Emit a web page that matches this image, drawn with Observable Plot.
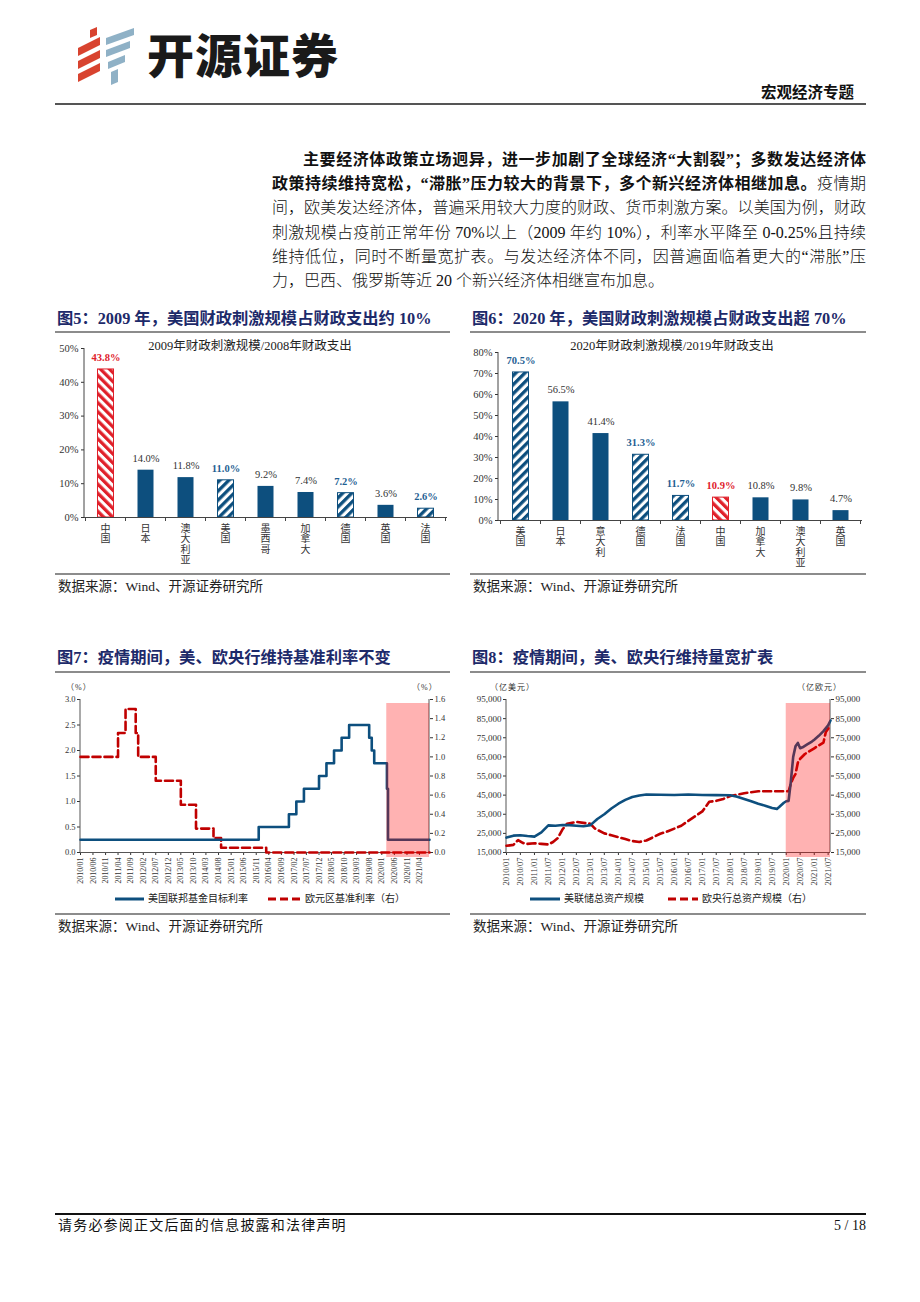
<!DOCTYPE html>
<html lang="zh-CN">
<head>
<meta charset="utf-8">
<script src="https://cdn.jsdelivr.net/npm/d3@7"></script>
<script src="https://cdn.jsdelivr.net/npm/@observablehq/plot@0.6"></script>
<style>
  html,body{margin:0;padding:0;background:#fff;}
  body{width:920px;height:1302px;position:relative;overflow:hidden;font-family:"Liberation Serif","Noto Sans CJK SC",serif;color:#111;}
  .abs{position:absolute;}
  .hr{position:absolute;background:#8c8c8c;height:2px;}
  .figtitle{position:absolute;font-weight:bold;color:#1d2a6a;font-size:16.3px;white-space:nowrap;line-height:1;}
  .src{position:absolute;font-size:13.5px;color:#222;white-space:nowrap;line-height:1;}
  .para{position:absolute;font-size:16px;line-height:24.2px;font-weight:300;color:#111;}
  .para .ln{text-align:justify;text-align-last:justify;white-space:nowrap;}
  .para .last{text-align-last:left;}
  .para b{font-weight:700;}
  .ctitle{position:absolute;font-size:12.5px;color:#222;white-space:nowrap;line-height:1;transform:translateX(-50%);}
  .unit{position:absolute;font-size:8px;color:#333;white-space:nowrap;line-height:1;letter-spacing:1px;}
  .legend{position:absolute;font-size:10px;color:#222;white-space:nowrap;line-height:1;display:flex;align-items:center;}
  .legend svg{margin-right:4px;}
</style>
</head>
<body>
<script>
// ---------------- DATA ----------------
// Figure 5
const c5Categories = ["中国","日本","澳大利亚","美国","墨西哥","加拿大","德国","英国","法国"];
const c5Values = [43.8, 14.0, 11.8, 11.0, 9.2, 7.4, 7.2, 3.6, 2.6];
const c5Styles = ["hatchRed","solid","solid","hatchBlue","solid","solid","hatchBlue","solid","hatchBlue"];
const c5Ticks = [0, 10, 20, 30, 40, 50];
// Figure 6
const c6Categories = ["美国","日本","意大利","德国","法国","中国","加拿大","澳大利亚","英国"];
const c6Values = [70.5, 56.5, 41.4, 31.3, 11.7, 10.9, 10.8, 9.8, 4.7];
const c6Styles = ["hatchBlue","solid","solid","hatchBlue","hatchBlue","hatchRed","solid","solid","solid"];
const c6Ticks = [0, 10, 20, 30, 40, 50, 60, 70, 80];
// Figure 7 (policy rates, %)
const fedRateDates = ["2010/01","2015/12","2016/12","2017/03","2017/06","2017/12","2018/03","2018/06","2018/09","2018/12","2019/08","2019/09","2019/10","2020/03/03","2020/03/16","2021/08"];
const fedRateValues = [0.25,0.5,0.75,1.0,1.25,1.5,1.75,2.0,2.25,2.5,2.25,2.0,1.75,1.25,0.25,0.25];
const ecbRateDates = ["2010/01","2011/04","2011/07","2011/11","2011/12","2012/07","2013/05","2013/11","2014/06","2014/09","2016/03","2021/08"];
const ecbRateValues = [1.0,1.25,1.5,1.25,1.0,0.75,0.5,0.25,0.15,0.05,0.0,0.0];
const rateLeftTicks = [0,0.5,1.0,1.5,2.0,2.5,3.0];
const rateRightTicks = [0,0.2,0.4,0.6,0.8,1.0,1.2,1.4,1.6];
const rateXTicks = ["2010/01","2010/06","2010/11","2011/04","2011/09","2012/02","2012/07","2012/12","2013/05","2013/10","2014/03","2014/08","2015/01","2015/06","2015/11","2016/04","2016/09","2017/02","2017/07","2017/12","2018/05","2018/10","2019/03","2019/08","2020/01","2020/06","2020/11","2021/04"];
const rateXDomain = ["2010/01","2021/08"];
const rateShade = [{start:"2020/03", end:"2021/08"}];
// Figure 8 (balance sheets)
const fedAssetDates = ["2010/01","2010/04","2010/07","2010/10","2011/01","2011/04","2011/07","2011/10","2012/01","2012/04","2012/07","2012/10","2013/01","2013/04","2013/07","2013/10","2014/01","2014/04","2014/07","2014/10","2015/01","2015/07","2016/01","2016/07","2017/01","2017/07","2018/01","2018/04","2018/07","2018/10","2019/01","2019/04","2019/07","2019/09","2019/10","2019/12","2020/01","2020/02","2020/03","2020/04","2020/05","2020/06","2020/07","2020/08","2020/10","2020/12","2021/01","2021/03","2021/05","2021/07","2021/08"];
const fedAssetValues = [22800,23800,24000,23600,23300,25500,29200,29000,29400,29300,29000,28700,29300,32500,35000,38000,40500,42500,44000,44800,45300,45200,45100,45300,45100,45000,44900,44200,43000,41800,40500,39500,38300,37800,38800,41000,41800,42000,52000,65000,70500,72300,69500,70000,71500,73000,74000,76000,78500,81500,84000];
const ecbAssetDates = ["2010/01","2010/04","2010/06","2010/08","2010/10","2011/01","2011/04","2011/07","2011/09","2011/11","2012/01","2012/03","2012/07","2012/10","2013/01","2013/03","2013/07","2013/10","2014/01","2014/04","2014/07","2014/10","2015/01","2015/04","2015/07","2015/10","2016/01","2016/04","2016/07","2016/10","2017/01","2017/04","2017/07","2017/10","2018/01","2018/07","2019/01","2019/07","2020/01","2020/02","2020/03","2020/04","2020/05","2020/06","2020/07","2020/09","2020/11","2021/01","2021/03","2021/05","2021/06","2021/08"];
const ecbAssetValues = [18500,19000,21500,20000,19500,19800,19500,19200,20500,22500,27000,30000,31000,30500,30000,27500,25000,24000,23000,22000,21000,20500,21300,23000,24800,26000,27500,29000,31500,34000,36500,41500,42000,43000,44500,46000,47000,47000,47000,47000,51000,54000,56000,62000,64000,66500,68000,69500,71000,72500,78000,81500];
const assetTicks = [15000,25000,35000,45000,55000,65000,75000,85000,95000];
const assetXTicks = ["2010/01","2010/07","2011/01","2011/07","2012/01","2012/07","2013/01","2013/07","2014/01","2014/07","2015/01","2015/07","2016/01","2016/07","2017/01","2017/07","2018/01","2018/07","2019/01","2019/07","2020/01","2020/07","2021/01","2021/07"];
const assetXDomain = ["2010/01","2021/08"];
const assetShade = [{start:"2020/01", end:"2021/08"}];

// ---------------- HELPERS ----------------
const NS = "http://www.w3.org/2000/svg";
const BLUE = "#0d4f7e", RED = "#e0202a", DRED = "#c00000";
const FONT = '"Liberation Serif","Noto Sans CJK SC",serif';
const CJK = '"Noto Sans CJK SC",sans-serif';
const parse = s => { const p = s.split("/").map(Number); return new Date(p[0], p[1]-1, p[2] || 1); };
function el(tag, attrs) { const e = document.createElementNS(NS, tag); for (const k in attrs) e.setAttribute(k, attrs[k]); return e; }
function hatchDefs(specs) {
  return () => {
    const defs = el("defs", {});
    for (const [id, color, angle] of specs) {
      const p = el("pattern", {id, patternUnits:"userSpaceOnUse", width:6.4, height:6.4, patternTransform:`rotate(${angle})`});
      p.appendChild(el("rect", {x:0, y:0, width:6.4, height:6.4, fill:"#fff"}));
      p.appendChild(el("rect", {x:0, y:0, width:3.3, height:6.4, fill:color}));
      defs.appendChild(p);
    }
    return defs;
  };
}
function frameLines(sides, color) {
  return (index, scales, values, d) => {
    const g = el("g", {stroke: color, "stroke-width": 1});
    const L = d.marginLeft, R = d.width - d.marginRight, T = d.marginTop, B = d.height - d.marginBottom;
    if (sides.includes("left")) g.appendChild(el("line", {x1:L, x2:L, y1:T, y2:B}));
    if (sides.includes("right")) g.appendChild(el("line", {x1:R, x2:R, y1:T, y2:B}));
    return g;
  };
}
// vertical (top-to-bottom) category labels plus boundary ticks, placed with Plot's band scale
function verticalBandAxis(cats) {
  return (index, scales, values, d) => {
    const sx = scales.x;
    const bw = typeof sx.bandwidth === "function" ? sx.bandwidth() : (sx.bandwidth || 0);
    const step = sx(cats[1]) - sx(cats[0]);
    const B = d.height - d.marginBottom;
    const g = el("g", {"text-anchor": "start"});
    const gap = (step - bw) / 2;
    cats.forEach((c, i) => {
      const t = el("text", {x: sx(c) + bw / 2, y: B + 6, "writing-mode": "vertical-rl", "text-anchor": "start", "font-size": 10,
        "font-family": CJK, fill: "#333", "letter-spacing": 0.4});
      t.style.writingMode = "vertical-rl";
      t.textContent = c;
      g.appendChild(t);
      const bx = sx(c) - gap;
      g.appendChild(el("line", {x1: bx, x2: bx, y1: B, y2: B + 4, stroke: "#444"}));
      if (i === cats.length - 1) g.appendChild(el("line", {x1: sx(c) + bw + gap, x2: sx(c) + bw + gap, y1: B, y2: B + 4, stroke: "#444"}));
    });
    return g;
  };
}
function mount(node, left, top) { node.style.position = "absolute"; node.style.left = left + "px"; node.style.top = top + "px"; document.body.appendChild(node); }
function add(html) { document.body.insertAdjacentHTML("beforeend", html); }

function barChart(cats, vals, styles, ticks, ymax, idp, opt) {
  const data = cats.map((c, i) => ({c, v: vals[i], s: styles[i]}));
  const fills = {solid: BLUE, hatchBlue: `url(#${idp}b)`, hatchRed: `url(#${idp}r)`};
  const strokes = {solid: BLUE, hatchBlue: BLUE, hatchRed: RED};
  const labelColor = {solid: "#333", hatchBlue: "#1f5f93", hatchRed: RED};
  const kinds = ["solid","hatchBlue","hatchRed"];
  return Plot.plot({
    width: opt.width, height: opt.height,
    marginLeft: opt.ml, marginRight: opt.mr, marginTop: opt.mt, marginBottom: opt.mb,
    x: {domain: cats, paddingInner: 0.58, paddingOuter: 0.29, axis: null},
    y: {domain: [0, ymax], axis: null},
    style: {fontFamily: FONT, fontSize: "10.5px", color: "#333", background: "transparent", overflow: "visible"},
    marks: [
      hatchDefs([[idp + "b", BLUE, 45], [idp + "r", RED, -45]]),
      Plot.axisY({ticks, tickFormat: d => d + "%", tickSize: 3, tickPadding: 3, label: null, fontSize: 10.5, fill: "#333"}),
      frameLines(["left"], "#444"),
      ...kinds.map(s =>
        Plot.barY(data.filter(d => d.s === s), {x: "c", y: "v", fill: fills[s], stroke: strokes[s], strokeWidth: s === "solid" ? 0 : 1, insetLeft: 0.5, insetRight: 0.5})),
      Plot.ruleY([0], {stroke: "#444"}),
      ...kinds.map(s =>
        Plot.text(data.filter(d => d.s === s), {x: "c", y: "v", text: d => d.v.toFixed(1) + "%", dy: -12, fontSize: 10.5,
          fill: labelColor[s], fontWeight: s === "solid" ? "normal" : "bold"})),
      verticalBandAxis(cats)
    ]
  });
}

// ---------------- STATIC PAGE ----------------
add(`
<svg class="abs" style="left:70px;top:24px" width="70" height="62" viewBox="0 0 70 62">
  <g fill="#d8432f">
    <polygon points="20,6 27,3 27,11 20,14"/>
    <polygon points="8,24 30,13 30,21 8,32"/>
    <polygon points="8,37 30,26 30,34 8,45"/>
    <polygon points="8,50 30,39 30,47 8,58"/>
  </g>
  <g fill="#8fb1c6">
    <polygon points="36,14 64,4 64,11 36,21"/>
    <polygon points="36,26 60,17 60,24 36,33"/>
    <polygon points="38,38 55,31 55,38 38,45"/>
    <polygon points="41,48 48,45 48,58 41,61"/>
  </g>
</svg>
<div class="abs" style="left:147px;top:29px;font-family:'Noto Sans CJK SC';font-weight:900;font-size:47px;line-height:1;color:#1a1a1a;letter-spacing:1px;">开源证券</div>
<div class="abs" style="left:761px;top:84px;font-family:'Noto Sans CJK SC';font-weight:700;font-size:15.5px;line-height:1;color:#111;">宏观经济专题</div>
<div class="hr" style="left:55px;top:103px;width:811px;background:#555"></div>

<div class="para" style="left:272px;top:148px;width:594px">
  <div class="ln" style="text-indent:31px"><b>主要经济体政策立场迥异，进一步加剧了全球经济“大割裂”；多数发达经济体</b></div>
  <div class="ln"><b>政策持续维持宽松，“滞胀”压力较大的背景下，多个新兴经济体相继加息。</b>疫情期</div>
  <div class="ln">间，欧美发达经济体，普遍采用较大力度的财政、货币刺激方案。以美国为例，财政</div>
  <div class="ln">刺激规模占疫前正常年份 70%以上（2009 年约 10%），利率水平降至 0-0.25%且持续</div>
  <div class="ln">维持低位，同时不断量宽扩表。与发达经济体不同，因普遍面临着更大的“滞胀”压</div>
  <div class="ln last">力，巴西、俄罗斯等近 20 个新兴经济体相继宣布加息。</div>
</div>

<div class="figtitle" style="left:57px;top:311px">图5：2009 年，美国财政刺激规模占财政支出约 10%</div>
<div class="hr" style="left:55px;top:331px;width:395px"></div>
<div class="figtitle" style="left:472px;top:311px">图6：2020 年，美国财政刺激规模占财政支出超 70%</div>
<div class="hr" style="left:470px;top:331px;width:396px"></div>
<div class="ctitle" style="left:250px;top:340px">2009年财政刺激规模/2008年财政支出</div>
<div class="ctitle" style="left:672px;top:340px">2020年财政刺激规模/2019年财政支出</div>
<div class="hr" style="left:55px;top:573px;width:395px"></div>
<div class="hr" style="left:470px;top:573px;width:396px"></div>
<div class="src" style="left:58px;top:580px">数据来源：Wind、开源证券研究所</div>
<div class="src" style="left:473px;top:580px">数据来源：Wind、开源证券研究所</div>

<div class="figtitle" style="left:57px;top:650px">图7：疫情期间，美、欧央行维持基准利率不变</div>
<div class="hr" style="left:55px;top:671px;width:395px"></div>
<div class="figtitle" style="left:472px;top:650px">图8：疫情期间，美、欧央行维持量宽扩表</div>
<div class="hr" style="left:470px;top:671px;width:396px"></div>
<div class="unit" style="left:66px;top:684px">（%）</div>
<div class="unit" style="left:412px;top:684px">（%）</div>
<div class="unit" style="left:490px;top:684px">（亿美元）</div>
<div class="unit" style="left:797px;top:684px">（亿欧元）</div>

<div class="legend" style="left:115px;top:894px"><svg width="29" height="8"><line x1="0" x2="29" y1="4" y2="4" stroke="${BLUE}" stroke-width="3"/></svg>美国联邦基金目标利率</div>
<div class="legend" style="left:268px;top:894px"><svg width="33" height="8"><line x1="0" x2="33" y1="4" y2="4" stroke="${DRED}" stroke-width="3" stroke-dasharray="8,4"/></svg>欧元区基准利率（右）</div>
<div class="legend" style="left:530px;top:894px"><svg width="30" height="8"><line x1="0" x2="30" y1="4" y2="4" stroke="${BLUE}" stroke-width="3"/></svg>美联储总资产规模</div>
<div class="legend" style="left:668px;top:894px"><svg width="30" height="8"><line x1="0" x2="30" y1="4" y2="4" stroke="${DRED}" stroke-width="3" stroke-dasharray="8,4"/></svg>欧央行总资产规模（右）</div>

<div class="hr" style="left:55px;top:913px;width:395px"></div>
<div class="hr" style="left:470px;top:913px;width:396px"></div>
<div class="src" style="left:58px;top:920px">数据来源：Wind、开源证券研究所</div>
<div class="src" style="left:473px;top:920px">数据来源：Wind、开源证券研究所</div>

<div class="hr" style="left:55px;top:1213px;width:811px;height:1.5px;background:#111"></div>
<div class="abs" style="left:58px;top:1219px;font-size:14px;letter-spacing:1.2px;line-height:1;color:#111;">请务必参阅正文后面的信息披露和法律声明</div>
<div class="abs" style="left:820px;top:1219px;width:46px;text-align:right;font-size:14px;line-height:1;color:#111;">5 / 18</div>
`);

// ---------------- CHARTS ----------------
mount(barChart(c5Categories, c5Values, c5Styles, c5Ticks, 50, "p5", {width: 400, height: 235, ml: 29, mr: 8, mt: 13, mb: 53}), 55, 335);
mount(barChart(c6Categories, c6Values, c6Styles, c6Ticks, 80, "p6", {width: 400, height: 240, ml: 28, mr: 8, mt: 17, mb: 55}), 470, 335);

// Figure 7
{
  const k = 3.0 / 1.6;
  const fed = fedRateDates.map((d, i) => ({date: parse(d), v: fedRateValues[i]}));
  const ecb = ecbRateDates.map((d, i) => ({date: parse(d), v: ecbRateValues[i] * k}));
  const shade = rateShade.map(d => ({start: parse(d.start), end: parse(d.end)}));
  const chart = Plot.plot({
    width: 395, height: 200, marginLeft: 25, marginRight: 21, marginTop: 9, marginBottom: 38,
    x: {type: "time", domain: rateXDomain.map(parse)},
    y: {domain: [0, 3]},
    style: {fontFamily: FONT, fontSize: "8.5px", color: "#333", background: "transparent", overflow: "visible"},
    marks: [
      Plot.axisY(rateLeftTicks, {anchor: "left", tickFormat: d => d.toFixed(1), tickSize: 3, tickPadding: 2, label: null}),
      Plot.axisY(rateRightTicks.map(v => v * k), {anchor: "right", tickFormat: d => (d / k).toFixed(1), tickSize: 3, tickPadding: 2, label: null}),
      Plot.axisX(rateXTicks.map(parse), {tickFormat: d3.timeFormat("%Y/%m"), tickRotate: -90, tickSize: 3, tickPadding: 2, fontSize: 8, label: null}),
      frameLines(["left", "right"], "#555"),
      Plot.ruleY([0], {stroke: "#555"}),
      Plot.line(ecb, {x: "date", y: "v", curve: "step-after", stroke: DRED, strokeWidth: 2.6, strokeDasharray: "8,4"}),
      Plot.line(fed, {x: "date", y: "v", curve: "step-after", stroke: BLUE, strokeWidth: 2.6}),
      Plot.rect(shade, {x1: "start", x2: "end", insetTop: 4, insetBottom: -5, fill: "#ff0000", fillOpacity: 0.3})
    ]
  });
  mount(chart, 55, 690);
}

// Figure 8
{
  const fed = fedAssetDates.map((d, i) => ({date: parse(d), v: fedAssetValues[i]}));
  const ecb = ecbAssetDates.map((d, i) => ({date: parse(d), v: ecbAssetValues[i]}));
  const shade = assetShade.map(d => ({start: parse(d.start), end: parse(d.end)}));
  const fmt = d3.format(",");
  const chart = Plot.plot({
    width: 410, height: 200, marginLeft: 46, marginRight: 40, marginTop: 9, marginBottom: 38,
    x: {type: "time", domain: assetXDomain.map(parse)},
    y: {domain: [15000, 95000]},
    style: {fontFamily: FONT, fontSize: "9px", color: "#333", background: "transparent", overflow: "visible"},
    marks: [
      Plot.axisY(assetTicks, {anchor: "left", tickFormat: fmt, tickSize: 3, tickPadding: 2, label: null}),
      Plot.axisY(assetTicks, {anchor: "right", tickFormat: fmt, tickSize: 3, tickPadding: 2, label: null}),
      Plot.axisX(assetXTicks.map(parse), {tickFormat: d3.timeFormat("%Y/%m"), tickRotate: -90, tickSize: 3, tickPadding: 2, fontSize: 8.5, label: null}),
      frameLines(["left", "right"], "#555"),
      Plot.ruleY([15000], {stroke: "#555"}),
      Plot.line(ecb, {x: "date", y: "v", stroke: DRED, strokeWidth: 2.6, strokeDasharray: "8,4", curve: "linear"}),
      Plot.line(fed, {x: "date", y: "v", stroke: BLUE, strokeWidth: 2.6, curve: "linear"}),
      Plot.rect(shade, {x1: "start", x2: "end", insetTop: 4, insetBottom: -5, fill: "#ff0000", fillOpacity: 0.3})
    ]
  });
  mount(chart, 460, 690);
}
</script>
</body>
</html>
